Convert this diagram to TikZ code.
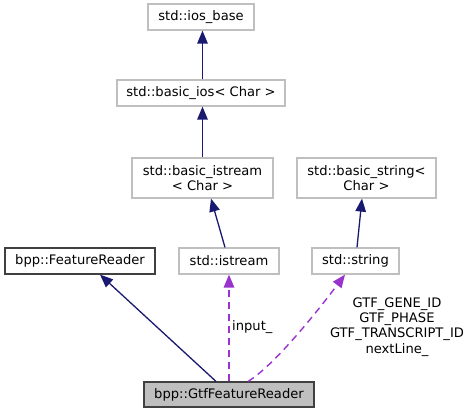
\documentclass[tikz,border=0pt]{standalone}
\usepackage{fontspec}
\setmainfont{DejaVu Sans}
\usetikzlibrary{arrows.meta,calc}
\definecolor{edgeblue}{HTML}{191970}
\definecolor{edgepurple}{HTML}{9A32CD}
\definecolor{boxgray}{HTML}{BFBFBF}
\definecolor{boxdark}{HTML}{404040}
\tikzset{
  cls/.style={draw=boxgray, line width=1.2pt, fill=white, inner sep=0pt, align=center,
    font=\fontsize{13.1}{14.7}\selectfont},
  clsdark/.style={cls, draw=boxdark},
  clsmain/.style={cls, draw=boxdark, fill=boxgray},
  inherit/.style={draw=edgeblue, line width=1.3pt, -{Triangle[length=13pt,width=10.5pt]}},
  uses/.style={draw=edgepurple, line width=1.4pt, dash pattern=on 7pt off 5pt,
    -{Triangle[length=13pt,width=10.5pt]}},
  lbl/.style={inner sep=0pt, align=center, font=\fontsize{13.1}{15.3}\selectfont},
}
\begin{document}
\begin{tikzpicture}[x=1pt,y=1pt]
\useasboundingbox (0,0) rectangle (472,413);
\node[cls, minimum width=106pt, minimum height=26pt] (iosbase) at (201,396) {std::ios\_base};
\node[cls, minimum width=168pt, minimum height=26pt] (basicios) at (201,320) {std::basic\_ios< Char >};
\node[cls, minimum width=141pt, minimum height=40pt] (bistream) at (202.5,235) {std::basic\_istream\\< Char >};
\node[cls, minimum width=139pt, minimum height=40pt] (bstring) at (366.5,235) {std::basic\_string<\\Char >};
\node[clsdark, minimum width=150pt, minimum height=26pt] (freader) at (80,152) {bpp::FeatureReader};
\node[cls, minimum width=100pt, minimum height=26pt] (istream) at (229,152) {std::istream};
\node[cls, minimum width=87pt, minimum height=26pt] (string) at (355.5,152) {std::string};
\node[clsmain, minimum width=170pt, minimum height=25pt] (gtf) at (229,18.5) {bpp::GtfFeatureReader};

\draw[inherit] ($(basicios.north)+(1.5,0)$) -- ($(iosbase.south)+(1.5,0)$);
\draw[inherit] ($(bistream.north)+(0,0)$) -- ($(basicios.south)+(1.5,0)$);
\draw[inherit] ($(istream.north)+(-4,0)$) -- ($(bistream.south)+(8.5,0)$);
\draw[inherit] ($(string.north)+(1.5,0)$) -- ($(bstring.south)+(-4.5,0)$);
\draw[inherit] ($(gtf.north)+(-13,0)$) -- ($(freader.south)+(20,0)$);
\draw[uses] (gtf.north) -- (istream.south);
\draw[uses] ($(gtf.north)+(19,0)$) .. controls +(25,15) and +(-30,-40) .. ($(string.south)+(-10.5,0)$);

\node[lbl, anchor=west] (linput) at (232,86) {input\_};
\node[lbl] (lstring) at (397,86) {GTF\_GENE\_ID\\GTF\_PHASE\\GTF\_TRANSCRIPT\_ID\\nextLine\_};
\end{tikzpicture}
\end{document}
